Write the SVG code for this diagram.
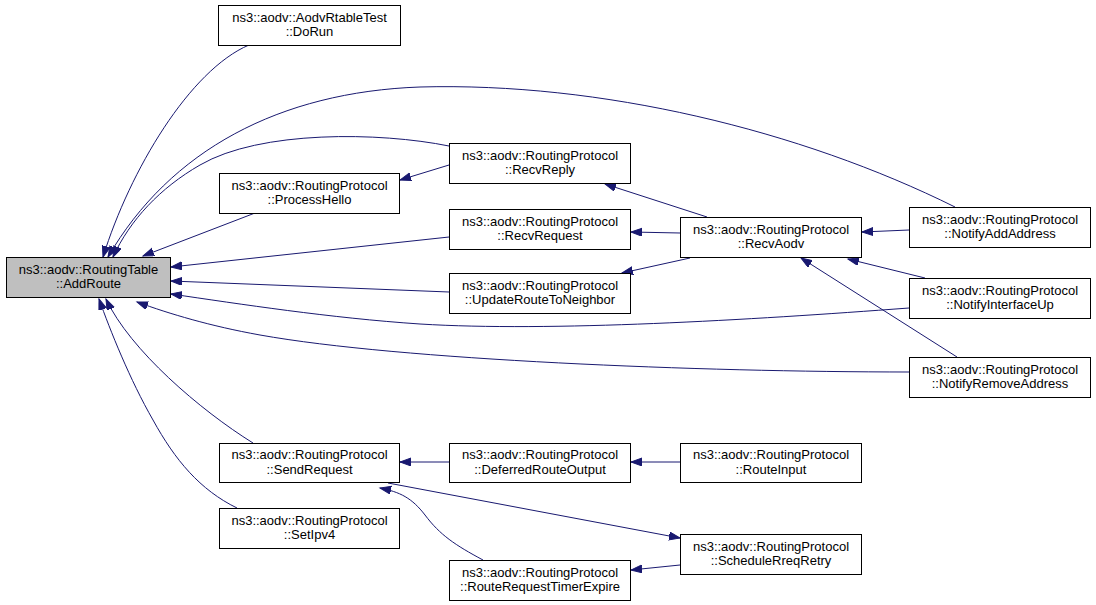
<svg xmlns="http://www.w3.org/2000/svg" width="1096" height="605" viewBox="0 0 1096 605">
<style>
.n rect{fill:#ffffff;stroke:#000000;stroke-width:1}
.n.hl rect{fill:#bfbfbf}
.n text{font-family:"Liberation Sans",Arial,Helvetica,sans-serif;font-size:13px;fill:#000000;text-anchor:middle}
.e path{fill:none;stroke:#191970;stroke-width:1;marker-end:url(#ah)}
</style>
<defs>
<marker id="ah" markerUnits="userSpaceOnUse" markerWidth="13" markerHeight="10" refX="11" refY="4" orient="auto">
<path d="M0,0 L11,4 L0,8 z" fill="#191970" stroke="#191970" stroke-width="1"/>
</marker>
</defs>
<rect x="0" y="0" width="1096" height="605" fill="#ffffff"/>
<g class="e" id="edges">
<path d="M249,45 C190,70 130,170 103,257"/>
<path d="M955,207 C800,130 600,82 420,87 C280,92 170,150 108,257"/>
<path d="M449,146 C380,132 260,130 200,165 C160,188 130,220 113,257"/>
<path d="M255,213 L143,256"/>
<path d="M449,237 L171,267"/>
<path d="M449,292 L171,281"/>
<path d="M909,308 C750,320 550,332 420,324 C330,318 240,304 171,294"/>
<path d="M909,372 C700,372 400,360 260,335 C210,326 170,314 137,302"/>
<path d="M253,443 C200,410 130,350 106,299"/>
<path d="M237,508 C200,490 175,460 153,420 C130,380 110,330 99,299"/>
<path d="M449,165 L400,180"/>
<path d="M707,217 L605,184"/>
<path d="M680,233 L631,232"/>
<path d="M690,258 L622,273"/>
<path d="M909,230 L862,232"/>
<path d="M925,278 L848,259"/>
<path d="M957,357 L801,258"/>
<path d="M449,462 L400,462"/>
<path d="M680,462 L631,462"/>
<path d="M388,483 L680,538"/>
<path d="M483,560 C455,545 440,535 425,515 C412,498 400,492 380,488"/>
<path d="M680,565 L631,570"/>
</g>
<g class="n hl" id="AddRoute"><rect x="6.5" y="257.5" width="164" height="40"/><text x="88.5" y="273.5">ns3::aodv::RoutingTable</text><text x="88.5" y="288">::AddRoute</text></g>
<g class="n" id="DoRun"><rect x="218.5" y="5.5" width="182" height="40"/><text x="309.5" y="21.5">ns3::aodv::AodvRtableTest</text><text x="309.5" y="36">::DoRun</text></g>
<g class="n" id="ProcessHello"><rect x="219.5" y="173.5" width="180" height="40"/><text x="309.5" y="189.5">ns3::aodv::RoutingProtocol</text><text x="309.5" y="204">::ProcessHello</text></g>
<g class="n" id="SendRequest"><rect x="219.5" y="443.5" width="180" height="39"/><text x="309.5" y="459">ns3::aodv::RoutingProtocol</text><text x="309.5" y="473.5">::SendRequest</text></g>
<g class="n" id="SetIpv4"><rect x="219.5" y="508.5" width="180" height="40"/><text x="309.5" y="524.5">ns3::aodv::RoutingProtocol</text><text x="309.5" y="539">::SetIpv4</text></g>
<g class="n" id="RecvReply"><rect x="449.5" y="143.5" width="181" height="40"/><text x="540" y="159.5">ns3::aodv::RoutingProtocol</text><text x="540" y="174">::RecvReply</text></g>
<g class="n" id="RecvRequest"><rect x="449.5" y="209.5" width="181" height="40"/><text x="540" y="225.5">ns3::aodv::RoutingProtocol</text><text x="540" y="240">::RecvRequest</text></g>
<g class="n" id="UpdateRouteToNeighbor"><rect x="449.5" y="273.5" width="181" height="40"/><text x="540" y="289.5">ns3::aodv::RoutingProtocol</text><text x="540" y="304">::UpdateRouteToNeighbor</text></g>
<g class="n" id="DeferredRouteOutput"><rect x="449.5" y="443.5" width="181" height="39"/><text x="540" y="459">ns3::aodv::RoutingProtocol</text><text x="540" y="473.5">::DeferredRouteOutput</text></g>
<g class="n" id="RouteRequestTimerExpire"><rect x="449.5" y="560.5" width="181" height="40"/><text x="540" y="576.5">ns3::aodv::RoutingProtocol</text><text x="540" y="591">::RouteRequestTimerExpire</text></g>
<g class="n" id="RecvAodv"><rect x="680.5" y="217.5" width="181" height="40"/><text x="771" y="233.5">ns3::aodv::RoutingProtocol</text><text x="771" y="248">::RecvAodv</text></g>
<g class="n" id="RouteInput"><rect x="680.5" y="443.5" width="181" height="39"/><text x="771" y="459">ns3::aodv::RoutingProtocol</text><text x="771" y="473.5">::RouteInput</text></g>
<g class="n" id="ScheduleRreqRetry"><rect x="680.5" y="534.5" width="181" height="40"/><text x="771" y="550.5">ns3::aodv::RoutingProtocol</text><text x="771" y="565">::ScheduleRreqRetry</text></g>
<g class="n" id="NotifyAddAddress"><rect x="909.5" y="207.5" width="181" height="40"/><text x="1000" y="223.5">ns3::aodv::RoutingProtocol</text><text x="1000" y="238">::NotifyAddAddress</text></g>
<g class="n" id="NotifyInterfaceUp"><rect x="909.5" y="278.5" width="181" height="40"/><text x="1000" y="294.5">ns3::aodv::RoutingProtocol</text><text x="1000" y="309">::NotifyInterfaceUp</text></g>
<g class="n" id="NotifyRemoveAddress"><rect x="909.5" y="357.5" width="181" height="40"/><text x="1000" y="373.5">ns3::aodv::RoutingProtocol</text><text x="1000" y="388">::NotifyRemoveAddress</text></g>
</svg>
